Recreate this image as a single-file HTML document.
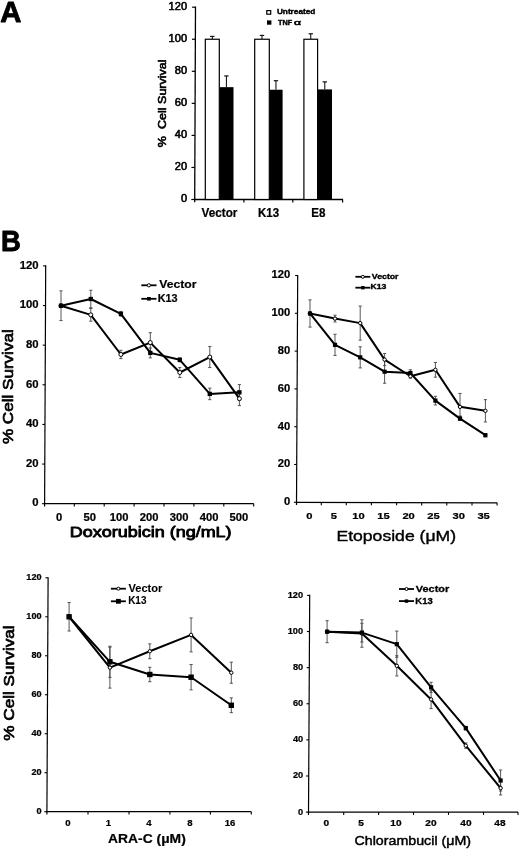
<!DOCTYPE html>
<html><head><meta charset="utf-8"><title>Figure</title>
<style>
html,body{margin:0;padding:0;background:#fff;}
body{width:520px;height:850px;overflow:hidden;}
svg{display:block;font-family:"Liberation Sans", sans-serif;}
</style></head>
<body>
<svg width="520" height="850" viewBox="0 0 520 850">
<rect width="520" height="850" fill="#fff"/>
<defs><filter id="bl" x="0" y="0" width="100%" height="100%"><feGaussianBlur stdDeviation="0.45"/></filter></defs>
<g fill="#000" filter="url(#bl)">
<rect width="520" height="850" fill="#fff"/>
<text transform="translate(0.32,22.25) scale(0.9763,1)" font-size="29.96" font-weight="bold" stroke="#000" stroke-width="0.90" stroke-linejoin="round">A</text>
<line x1="195.50" y1="6.60" x2="194.70" y2="202.30" stroke="#000" stroke-width="1.3" />
<line x1="191.30" y1="199.50" x2="194.70" y2="199.50" stroke="#000" stroke-width="1.2" />
<text transform="translate(180.88,202.22) scale(1.0977,1)" font-size="10.11" font-weight="normal" stroke="#000" stroke-width="0.55" stroke-linejoin="round">0</text>
<line x1="191.43" y1="167.45" x2="194.83" y2="167.45" stroke="#000" stroke-width="1.2" />
<text transform="translate(174.73,170.17) scale(1.0977,1)" font-size="10.11" font-weight="normal" stroke="#000" stroke-width="0.55" stroke-linejoin="round">20</text>
<line x1="191.57" y1="135.40" x2="194.97" y2="135.40" stroke="#000" stroke-width="1.2" />
<text transform="translate(174.73,138.12) scale(1.0977,1)" font-size="10.11" font-weight="normal" stroke="#000" stroke-width="0.55" stroke-linejoin="round">40</text>
<line x1="191.70" y1="103.35" x2="195.10" y2="103.35" stroke="#000" stroke-width="1.2" />
<text transform="translate(174.73,106.07) scale(1.0977,1)" font-size="10.11" font-weight="normal" stroke="#000" stroke-width="0.55" stroke-linejoin="round">60</text>
<line x1="191.83" y1="71.30" x2="195.23" y2="71.30" stroke="#000" stroke-width="1.2" />
<text transform="translate(174.73,74.03) scale(1.0977,1)" font-size="10.11" font-weight="normal" stroke="#000" stroke-width="0.55" stroke-linejoin="round">80</text>
<line x1="191.97" y1="39.25" x2="195.37" y2="39.25" stroke="#000" stroke-width="1.2" />
<text transform="translate(168.54,41.98) scale(1.0977,1)" font-size="10.11" font-weight="normal" stroke="#000" stroke-width="0.55" stroke-linejoin="round">100</text>
<line x1="192.10" y1="7.20" x2="195.50" y2="7.20" stroke="#000" stroke-width="1.2" />
<text transform="translate(168.54,9.92) scale(1.0977,1)" font-size="10.11" font-weight="normal" stroke="#000" stroke-width="0.55" stroke-linejoin="round">120</text>
<line x1="194.10" y1="199.50" x2="343.00" y2="199.50" stroke="#000" stroke-width="1.3" />
<line x1="243.90" y1="199.50" x2="243.90" y2="202.40" stroke="#000" stroke-width="1.2" />
<line x1="292.80" y1="199.50" x2="292.80" y2="202.40" stroke="#000" stroke-width="1.2" />
<line x1="342.60" y1="199.50" x2="342.60" y2="202.40" stroke="#000" stroke-width="1.2" />
<line x1="212.30" y1="39.25" x2="212.30" y2="36.37" stroke="#000" stroke-width="1.0" />
<line x1="210.10" y1="36.37" x2="214.50" y2="36.37" stroke="#000" stroke-width="1.1" />
<rect x="205.30" y="39.25" width="14.00" height="160.25" fill="#fff" stroke="#000" stroke-width="1.2"/>
<line x1="226.40" y1="87.16" x2="226.40" y2="75.95" stroke="#000" stroke-width="1.0" />
<line x1="224.20" y1="75.95" x2="228.60" y2="75.95" stroke="#000" stroke-width="1.1" />
<rect x="219.30" y="87.16" width="14.20" height="112.34" fill="#000" stroke="none"/>
<line x1="262.00" y1="39.25" x2="262.00" y2="35.40" stroke="#000" stroke-width="1.0" />
<line x1="259.80" y1="35.40" x2="264.20" y2="35.40" stroke="#000" stroke-width="1.1" />
<rect x="254.70" y="39.25" width="14.60" height="160.25" fill="#fff" stroke="#000" stroke-width="1.2"/>
<line x1="275.95" y1="89.73" x2="275.95" y2="80.75" stroke="#000" stroke-width="1.0" />
<line x1="273.75" y1="80.75" x2="278.15" y2="80.75" stroke="#000" stroke-width="1.1" />
<rect x="269.30" y="89.73" width="13.30" height="109.77" fill="#000" stroke="none"/>
<line x1="310.75" y1="39.25" x2="310.75" y2="33.80" stroke="#000" stroke-width="1.0" />
<line x1="308.55" y1="33.80" x2="312.95" y2="33.80" stroke="#000" stroke-width="1.1" />
<rect x="303.90" y="39.25" width="13.70" height="160.25" fill="#fff" stroke="#000" stroke-width="1.2"/>
<line x1="324.80" y1="89.41" x2="324.80" y2="81.88" stroke="#000" stroke-width="1.0" />
<line x1="322.60" y1="81.88" x2="327.00" y2="81.88" stroke="#000" stroke-width="1.1" />
<rect x="317.60" y="89.41" width="14.40" height="110.09" fill="#000" stroke="none"/>
<text transform="translate(201.62,217.09) scale(0.9504,1)" font-size="12.33" font-weight="bold" stroke="#000" stroke-width="0.22" stroke-linejoin="round">Vector</text>
<text transform="translate(258.03,217.09) scale(0.9499,1)" font-size="12.16" font-weight="bold" stroke="#000" stroke-width="0.22" stroke-linejoin="round">K13</text>
<text transform="translate(311.23,217.09) scale(0.9563,1)" font-size="12.16" font-weight="bold" stroke="#000" stroke-width="0.22" stroke-linejoin="round">E8</text>
<text transform="translate(165.80,147.14) rotate(-90) scale(1.1804,1)" font-size="10.62" font-weight="normal" stroke="#000" stroke-width="0.60" stroke-linejoin="round">%  Cell Survival</text>
<rect x="266.80" y="10.60" width="3.90" height="3.60" fill="#fff" stroke="#000" stroke-width="1.2"/>
<text transform="translate(276.90,13.90) scale(1.0709,1)" font-size="7.71" font-weight="bold" stroke="#000" stroke-width="0.40" stroke-linejoin="round">Untreated</text>
<rect x="267.00" y="20.40" width="4.40" height="4.30" fill="#000" stroke="none"/>
<text transform="translate(277.93,24.60) scale(1.0072,1)" font-size="7.27" font-weight="bold" stroke="#000" stroke-width="0.40" stroke-linejoin="round">TNF</text>
<text transform="translate(293.93,24.65) scale(1.7280,1)" font-size="7.07" font-weight="normal" stroke="#000" stroke-width="0.50" stroke-linejoin="round">α</text>
<text transform="translate(0.90,251.15) scale(0.9458,1)" font-size="28.95" font-weight="bold" stroke="#000" stroke-width="0.90" stroke-linejoin="round">B</text>
<line x1="45.70" y1="265.30" x2="44.60" y2="506.50" stroke="#000" stroke-width="1.2" />
<line x1="42.00" y1="503.70" x2="44.60" y2="503.70" stroke="#000" stroke-width="1.1" />
<text transform="translate(32.34,506.49) scale(1.1037,1)" font-size="10.29" font-weight="bold" stroke="#000" stroke-width="0.22" stroke-linejoin="round">0</text>
<line x1="42.18" y1="464.07" x2="44.78" y2="464.07" stroke="#000" stroke-width="1.1" />
<text transform="translate(26.03,466.86) scale(1.1037,1)" font-size="10.29" font-weight="bold" stroke="#000" stroke-width="0.22" stroke-linejoin="round">20</text>
<line x1="42.37" y1="424.43" x2="44.97" y2="424.43" stroke="#000" stroke-width="1.1" />
<text transform="translate(26.03,427.22) scale(1.1037,1)" font-size="10.29" font-weight="bold" stroke="#000" stroke-width="0.22" stroke-linejoin="round">40</text>
<line x1="42.55" y1="384.80" x2="45.15" y2="384.80" stroke="#000" stroke-width="1.1" />
<text transform="translate(26.03,387.59) scale(1.1037,1)" font-size="10.29" font-weight="bold" stroke="#000" stroke-width="0.22" stroke-linejoin="round">60</text>
<line x1="42.73" y1="345.17" x2="45.33" y2="345.17" stroke="#000" stroke-width="1.1" />
<text transform="translate(26.03,347.96) scale(1.1037,1)" font-size="10.29" font-weight="bold" stroke="#000" stroke-width="0.22" stroke-linejoin="round">80</text>
<line x1="42.92" y1="305.53" x2="45.52" y2="305.53" stroke="#000" stroke-width="1.1" />
<text transform="translate(19.70,308.32) scale(1.1037,1)" font-size="10.29" font-weight="bold" stroke="#000" stroke-width="0.22" stroke-linejoin="round">100</text>
<line x1="43.10" y1="265.90" x2="45.70" y2="265.90" stroke="#000" stroke-width="1.1" />
<text transform="translate(19.70,268.69) scale(1.1037,1)" font-size="10.29" font-weight="bold" stroke="#000" stroke-width="0.22" stroke-linejoin="round">120</text>
<line x1="44.00" y1="503.70" x2="253.80" y2="503.70" stroke="#000" stroke-width="1.2" />
<line x1="74.30" y1="503.70" x2="74.30" y2="506.50" stroke="#000" stroke-width="1.1" />
<line x1="104.20" y1="503.70" x2="104.20" y2="506.50" stroke="#000" stroke-width="1.1" />
<line x1="134.10" y1="503.70" x2="134.10" y2="506.50" stroke="#000" stroke-width="1.1" />
<line x1="164.00" y1="503.70" x2="164.00" y2="506.50" stroke="#000" stroke-width="1.1" />
<line x1="193.90" y1="503.70" x2="193.90" y2="506.50" stroke="#000" stroke-width="1.1" />
<line x1="223.80" y1="503.70" x2="223.80" y2="506.50" stroke="#000" stroke-width="1.1" />
<line x1="253.70" y1="503.70" x2="253.70" y2="506.50" stroke="#000" stroke-width="1.1" />
<text transform="translate(56.08,521.09) scale(1.1064,1)" font-size="10.15" font-weight="bold" stroke="#000" stroke-width="0.22" stroke-linejoin="round">0</text>
<text transform="translate(83.57,521.09) scale(1.1064,1)" font-size="10.15" font-weight="bold" stroke="#000" stroke-width="0.22" stroke-linejoin="round">50</text>
<text transform="translate(109.81,521.09) scale(1.1064,1)" font-size="10.15" font-weight="bold" stroke="#000" stroke-width="0.22" stroke-linejoin="round">100</text>
<text transform="translate(139.86,521.09) scale(1.1064,1)" font-size="10.15" font-weight="bold" stroke="#000" stroke-width="0.22" stroke-linejoin="round">200</text>
<text transform="translate(169.83,521.09) scale(1.1064,1)" font-size="10.15" font-weight="bold" stroke="#000" stroke-width="0.22" stroke-linejoin="round">300</text>
<text transform="translate(199.78,521.09) scale(1.1064,1)" font-size="10.15" font-weight="bold" stroke="#000" stroke-width="0.22" stroke-linejoin="round">400</text>
<text transform="translate(229.59,521.09) scale(1.1064,1)" font-size="10.15" font-weight="bold" stroke="#000" stroke-width="0.22" stroke-linejoin="round">500</text>
<path d="M61.00,290.87V320.59M59.40,290.87H62.60M59.40,320.59H62.60" stroke="#444" stroke-width="0.9" fill="none"/>
<path d="M90.80,308.51V321.19M89.20,308.51H92.40M89.20,321.19H92.40" stroke="#444" stroke-width="0.9" fill="none"/>
<path d="M120.90,350.32V358.64M119.30,350.32H122.50M119.30,358.64H122.50" stroke="#444" stroke-width="0.9" fill="none"/>
<path d="M150.30,332.68V352.50M148.70,332.68H151.90M148.70,352.50H151.90" stroke="#444" stroke-width="0.9" fill="none"/>
<path d="M179.80,367.56V377.47M178.20,367.56H181.40M178.20,377.47H181.40" stroke="#444" stroke-width="0.9" fill="none"/>
<path d="M209.80,346.55V367.56M208.20,346.55H211.40M208.20,367.56H211.40" stroke="#444" stroke-width="0.9" fill="none"/>
<path d="M239.40,391.74V405.61M237.80,391.74H241.00M237.80,405.61H241.00" stroke="#444" stroke-width="0.9" fill="none"/>
<path d="M90.80,290.27V307.71M89.20,290.27H92.40M89.20,307.71H92.40" stroke="#444" stroke-width="0.9" fill="none"/>
<path d="M120.90,311.48V316.23M119.30,311.48H122.50M119.30,316.23H122.50" stroke="#444" stroke-width="0.9" fill="none"/>
<path d="M150.30,347.94V357.85M148.70,347.94H151.90M148.70,357.85H151.90" stroke="#444" stroke-width="0.9" fill="none"/>
<path d="M179.80,357.85V361.81M178.20,357.85H181.40M178.20,361.81H181.40" stroke="#444" stroke-width="0.9" fill="none"/>
<path d="M209.80,388.17V399.66M208.20,388.17H211.40M208.20,399.66H211.40" stroke="#444" stroke-width="0.9" fill="none"/>
<path d="M239.40,384.60V400.06M237.80,384.60H241.00M237.80,400.06H241.00" stroke="#444" stroke-width="0.9" fill="none"/>
<path d="M61.00,305.73 L90.80,314.85 L120.90,354.48 L150.30,342.59 L179.80,372.51 L209.80,357.06 L239.40,398.67" fill="none" stroke="#000" stroke-width="2.0" stroke-linejoin="round"/>
<path d="M61.00,305.73 L90.80,298.99 L120.90,313.86 L150.30,352.90 L179.80,359.83 L209.80,393.92 L239.40,392.33" fill="none" stroke="#000" stroke-width="2.0" stroke-linejoin="round"/>
<circle cx="61.00" cy="305.73" r="2.00" fill="#fff" stroke="#000" stroke-width="1.0"/>
<circle cx="90.80" cy="314.85" r="2.00" fill="#fff" stroke="#000" stroke-width="1.0"/>
<circle cx="120.90" cy="354.48" r="2.00" fill="#fff" stroke="#000" stroke-width="1.0"/>
<circle cx="150.30" cy="342.59" r="2.00" fill="#fff" stroke="#000" stroke-width="1.0"/>
<circle cx="179.80" cy="372.51" r="2.00" fill="#fff" stroke="#000" stroke-width="1.0"/>
<circle cx="209.80" cy="357.06" r="2.00" fill="#fff" stroke="#000" stroke-width="1.0"/>
<circle cx="239.40" cy="398.67" r="2.00" fill="#fff" stroke="#000" stroke-width="1.0"/>
<rect x="58.85" y="303.58" width="4.30" height="4.30" fill="#000"/>
<rect x="88.65" y="296.84" width="4.30" height="4.30" fill="#000"/>
<rect x="118.75" y="311.71" width="4.30" height="4.30" fill="#000"/>
<rect x="148.15" y="350.75" width="4.30" height="4.30" fill="#000"/>
<rect x="177.65" y="357.68" width="4.30" height="4.30" fill="#000"/>
<rect x="207.65" y="391.77" width="4.30" height="4.30" fill="#000"/>
<rect x="237.25" y="390.18" width="4.30" height="4.30" fill="#000"/>
<line x1="141.30" y1="285.30" x2="156.50" y2="285.30" stroke="#000" stroke-width="1.8" />
<circle cx="148.90" cy="285.30" r="1.60" fill="#fff" stroke="#000" stroke-width="1.0"/>
<line x1="141.30" y1="298.80" x2="156.50" y2="298.80" stroke="#000" stroke-width="1.8" />
<rect x="147.10" y="297.00" width="3.60" height="3.60" fill="#000"/>
<text transform="translate(159.21,288.20) scale(1.1175,1)" font-size="10.91" font-weight="bold" stroke="#000" stroke-width="0.20" stroke-linejoin="round">Vector</text>
<text transform="translate(157.67,301.60) scale(1.0527,1)" font-size="10.32" font-weight="bold" stroke="#000" stroke-width="0.20" stroke-linejoin="round">K13</text>
<text transform="translate(69.84,537.18) scale(1.2059,1)" font-size="14.91" font-weight="normal" stroke="#000" stroke-width="0.85" stroke-linejoin="round">Doxorubicin (ng/mL)</text>
<text transform="translate(12.85,444.05) rotate(-90) scale(1.1266,1)" font-size="15.17" font-weight="normal" stroke="#000" stroke-width="0.70" stroke-linejoin="round">% Cell Survival</text>
<line x1="297.70" y1="274.90" x2="296.50" y2="505.10" stroke="#000" stroke-width="1.2" />
<line x1="293.90" y1="502.30" x2="296.50" y2="502.30" stroke="#000" stroke-width="1.1" />
<text transform="translate(283.90,505.19) scale(1.0475,1)" font-size="10.72" font-weight="bold" stroke="#000" stroke-width="0.22" stroke-linejoin="round">0</text>
<line x1="294.10" y1="464.50" x2="296.70" y2="464.50" stroke="#000" stroke-width="1.1" />
<text transform="translate(277.67,467.39) scale(1.0475,1)" font-size="10.72" font-weight="bold" stroke="#000" stroke-width="0.22" stroke-linejoin="round">20</text>
<line x1="294.30" y1="426.70" x2="296.90" y2="426.70" stroke="#000" stroke-width="1.1" />
<text transform="translate(277.67,429.59) scale(1.0475,1)" font-size="10.72" font-weight="bold" stroke="#000" stroke-width="0.22" stroke-linejoin="round">40</text>
<line x1="294.50" y1="388.90" x2="297.10" y2="388.90" stroke="#000" stroke-width="1.1" />
<text transform="translate(277.67,391.79) scale(1.0475,1)" font-size="10.72" font-weight="bold" stroke="#000" stroke-width="0.22" stroke-linejoin="round">60</text>
<line x1="294.70" y1="351.10" x2="297.30" y2="351.10" stroke="#000" stroke-width="1.1" />
<text transform="translate(277.67,353.99) scale(1.0475,1)" font-size="10.72" font-weight="bold" stroke="#000" stroke-width="0.22" stroke-linejoin="round">80</text>
<line x1="294.90" y1="313.30" x2="297.50" y2="313.30" stroke="#000" stroke-width="1.1" />
<text transform="translate(271.41,316.19) scale(1.0475,1)" font-size="10.72" font-weight="bold" stroke="#000" stroke-width="0.22" stroke-linejoin="round">100</text>
<line x1="295.10" y1="275.50" x2="297.70" y2="275.50" stroke="#000" stroke-width="1.1" />
<text transform="translate(271.41,278.39) scale(1.0475,1)" font-size="10.72" font-weight="bold" stroke="#000" stroke-width="0.22" stroke-linejoin="round">120</text>
<line x1="295.90" y1="502.30" x2="497.10" y2="502.80" stroke="#000" stroke-width="1.2" />
<line x1="321.30" y1="502.36" x2="321.30" y2="505.16" stroke="#000" stroke-width="1.1" />
<line x1="346.30" y1="502.42" x2="346.30" y2="505.22" stroke="#000" stroke-width="1.1" />
<line x1="371.40" y1="502.49" x2="371.40" y2="505.29" stroke="#000" stroke-width="1.1" />
<line x1="396.60" y1="502.55" x2="396.60" y2="505.35" stroke="#000" stroke-width="1.1" />
<line x1="421.70" y1="502.61" x2="421.70" y2="505.41" stroke="#000" stroke-width="1.1" />
<line x1="446.80" y1="502.67" x2="446.80" y2="505.47" stroke="#000" stroke-width="1.1" />
<line x1="472.00" y1="502.74" x2="472.00" y2="505.54" stroke="#000" stroke-width="1.1" />
<line x1="497.10" y1="502.80" x2="497.10" y2="505.60" stroke="#000" stroke-width="1.1" />
<text transform="translate(306.19,519.09) scale(1.2051,1)" font-size="9.29" font-weight="bold" stroke="#000" stroke-width="0.22" stroke-linejoin="round">0</text>
<text transform="translate(330.78,519.09) scale(1.2051,1)" font-size="9.29" font-weight="bold" stroke="#000" stroke-width="0.22" stroke-linejoin="round">5</text>
<text transform="translate(352.36,519.09) scale(1.2051,1)" font-size="9.29" font-weight="bold" stroke="#000" stroke-width="0.22" stroke-linejoin="round">10</text>
<text transform="translate(377.29,519.09) scale(1.2051,1)" font-size="9.29" font-weight="bold" stroke="#000" stroke-width="0.22" stroke-linejoin="round">15</text>
<text transform="translate(402.41,519.09) scale(1.2051,1)" font-size="9.29" font-weight="bold" stroke="#000" stroke-width="0.22" stroke-linejoin="round">20</text>
<text transform="translate(427.34,519.09) scale(1.2051,1)" font-size="9.29" font-weight="bold" stroke="#000" stroke-width="0.22" stroke-linejoin="round">25</text>
<text transform="translate(452.48,519.09) scale(1.2051,1)" font-size="9.29" font-weight="bold" stroke="#000" stroke-width="0.22" stroke-linejoin="round">30</text>
<text transform="translate(477.41,519.09) scale(1.2051,1)" font-size="9.29" font-weight="bold" stroke="#000" stroke-width="0.22" stroke-linejoin="round">35</text>
<path d="M310.00,299.88V327.10M308.40,299.88H311.60M308.40,327.10H311.60" stroke="#444" stroke-width="0.9" fill="none"/>
<path d="M335.00,315.19V321.99M333.40,315.19H336.60M333.40,321.99H336.60" stroke="#444" stroke-width="0.9" fill="none"/>
<path d="M360.20,306.12V340.14M358.60,306.12H361.80M358.60,340.14H361.80" stroke="#444" stroke-width="0.9" fill="none"/>
<path d="M384.60,353.56V365.65M383.00,353.56H386.20M383.00,365.65H386.20" stroke="#444" stroke-width="0.9" fill="none"/>
<path d="M410.40,374.35V378.13M408.80,374.35H412.00M408.80,378.13H412.00" stroke="#444" stroke-width="0.9" fill="none"/>
<path d="M435.40,362.44V377.18M433.80,362.44H437.00M433.80,377.18H437.00" stroke="#444" stroke-width="0.9" fill="none"/>
<path d="M460.00,393.44V415.93M458.40,393.44H461.60M458.40,415.93H461.60" stroke="#444" stroke-width="0.9" fill="none"/>
<path d="M485.40,399.67V421.98M483.80,399.67H487.00M483.80,421.98H487.00" stroke="#444" stroke-width="0.9" fill="none"/>
<path d="M335.00,334.28V355.45M333.40,334.28H336.60M333.40,355.45H336.60" stroke="#444" stroke-width="0.9" fill="none"/>
<path d="M360.20,346.75V367.92M358.60,346.75H361.80M358.60,367.92H361.80" stroke="#444" stroke-width="0.9" fill="none"/>
<path d="M384.60,360.17V383.23M383.00,360.17H386.20M383.00,383.23H386.20" stroke="#444" stroke-width="0.9" fill="none"/>
<path d="M410.40,369.81V376.24M408.80,369.81H412.00M408.80,376.24H412.00" stroke="#444" stroke-width="0.9" fill="none"/>
<path d="M435.40,396.27V404.97M433.80,396.27H437.00M433.80,404.97H437.00" stroke="#444" stroke-width="0.9" fill="none"/>
<path d="M460.00,416.68V420.46M458.40,416.68H461.60M458.40,420.46H461.60" stroke="#444" stroke-width="0.9" fill="none"/>
<path d="M485.40,433.69V436.72M483.80,433.69H487.00M483.80,436.72H487.00" stroke="#444" stroke-width="0.9" fill="none"/>
<path d="M310.00,313.49 L335.00,318.59 L360.20,323.13 L384.60,359.61 L410.40,376.24 L435.40,369.81 L460.00,406.86 L485.40,410.82" fill="none" stroke="#000" stroke-width="2.0" stroke-linejoin="round"/>
<path d="M310.00,313.49 L335.00,344.86 L360.20,357.34 L384.60,371.70 L410.40,373.02 L435.40,400.62 L460.00,418.57 L485.40,435.21" fill="none" stroke="#000" stroke-width="2.0" stroke-linejoin="round"/>
<circle cx="310.00" cy="313.49" r="1.70" fill="#fff" stroke="#000" stroke-width="1.0"/>
<circle cx="335.00" cy="318.59" r="1.70" fill="#fff" stroke="#000" stroke-width="1.0"/>
<circle cx="360.20" cy="323.13" r="1.70" fill="#fff" stroke="#000" stroke-width="1.0"/>
<circle cx="384.60" cy="359.61" r="1.70" fill="#fff" stroke="#000" stroke-width="1.0"/>
<circle cx="410.40" cy="376.24" r="1.70" fill="#fff" stroke="#000" stroke-width="1.0"/>
<circle cx="435.40" cy="369.81" r="1.70" fill="#fff" stroke="#000" stroke-width="1.0"/>
<circle cx="460.00" cy="406.86" r="1.70" fill="#fff" stroke="#000" stroke-width="1.0"/>
<circle cx="485.40" cy="410.82" r="1.70" fill="#fff" stroke="#000" stroke-width="1.0"/>
<rect x="307.90" y="311.39" width="4.20" height="4.20" fill="#000"/>
<rect x="332.90" y="342.76" width="4.20" height="4.20" fill="#000"/>
<rect x="358.10" y="355.24" width="4.20" height="4.20" fill="#000"/>
<rect x="382.50" y="369.60" width="4.20" height="4.20" fill="#000"/>
<rect x="408.30" y="370.92" width="4.20" height="4.20" fill="#000"/>
<rect x="433.30" y="398.52" width="4.20" height="4.20" fill="#000"/>
<rect x="457.90" y="416.47" width="4.20" height="4.20" fill="#000"/>
<rect x="483.30" y="433.11" width="4.20" height="4.20" fill="#000"/>
<line x1="355.40" y1="276.80" x2="370.30" y2="276.80" stroke="#000" stroke-width="1.8" />
<circle cx="362.85" cy="276.80" r="1.50" fill="#fff" stroke="#000" stroke-width="1.0"/>
<line x1="355.40" y1="287.70" x2="370.30" y2="287.70" stroke="#000" stroke-width="1.8" />
<rect x="361.15" y="286.00" width="3.40" height="3.40" fill="#000"/>
<text transform="translate(371.81,278.62) scale(1.2400,1)" font-size="7.05" font-weight="bold" stroke="#000" stroke-width="0.35" stroke-linejoin="round">Vector</text>
<text transform="translate(370.39,289.12) scale(1.1936,1)" font-size="7.24" font-weight="bold" stroke="#000" stroke-width="0.35" stroke-linejoin="round">K13</text>
<text transform="translate(336.45,541.00) scale(1.1412,1)" font-size="15.42" font-weight="normal" stroke="#000" stroke-width="0.40" stroke-linejoin="round">Etoposide (μM)</text>
<line x1="48.10" y1="577.20" x2="46.90" y2="814.50" stroke="#000" stroke-width="1.2" />
<line x1="44.30" y1="811.70" x2="46.90" y2="811.70" stroke="#000" stroke-width="1.1" />
<text transform="translate(36.49,814.09) scale(1.0824,1)" font-size="8.43" font-weight="bold" stroke="#000" stroke-width="0.22" stroke-linejoin="round">0</text>
<line x1="44.50" y1="772.72" x2="47.10" y2="772.72" stroke="#000" stroke-width="1.1" />
<text transform="translate(31.43,775.11) scale(1.0824,1)" font-size="8.43" font-weight="bold" stroke="#000" stroke-width="0.22" stroke-linejoin="round">20</text>
<line x1="44.70" y1="733.73" x2="47.30" y2="733.73" stroke="#000" stroke-width="1.1" />
<text transform="translate(31.43,736.12) scale(1.0824,1)" font-size="8.43" font-weight="bold" stroke="#000" stroke-width="0.22" stroke-linejoin="round">40</text>
<line x1="44.90" y1="694.75" x2="47.50" y2="694.75" stroke="#000" stroke-width="1.1" />
<text transform="translate(31.43,697.14) scale(1.0824,1)" font-size="8.43" font-weight="bold" stroke="#000" stroke-width="0.22" stroke-linejoin="round">60</text>
<line x1="45.10" y1="655.77" x2="47.70" y2="655.77" stroke="#000" stroke-width="1.1" />
<text transform="translate(31.43,658.16) scale(1.0824,1)" font-size="8.43" font-weight="bold" stroke="#000" stroke-width="0.22" stroke-linejoin="round">80</text>
<line x1="45.30" y1="616.78" x2="47.90" y2="616.78" stroke="#000" stroke-width="1.1" />
<text transform="translate(26.34,619.17) scale(1.0824,1)" font-size="8.43" font-weight="bold" stroke="#000" stroke-width="0.22" stroke-linejoin="round">100</text>
<line x1="45.50" y1="577.80" x2="48.10" y2="577.80" stroke="#000" stroke-width="1.1" />
<text transform="translate(26.34,580.19) scale(1.0824,1)" font-size="8.43" font-weight="bold" stroke="#000" stroke-width="0.22" stroke-linejoin="round">120</text>
<line x1="46.30" y1="811.70" x2="251.30" y2="811.70" stroke="#000" stroke-width="1.2" />
<line x1="88.00" y1="811.70" x2="88.00" y2="814.50" stroke="#000" stroke-width="1.1" />
<line x1="129.00" y1="811.70" x2="129.00" y2="814.50" stroke="#000" stroke-width="1.1" />
<line x1="169.90" y1="811.70" x2="169.90" y2="814.50" stroke="#000" stroke-width="1.1" />
<line x1="210.40" y1="811.70" x2="210.40" y2="814.50" stroke="#000" stroke-width="1.1" />
<line x1="251.30" y1="811.70" x2="251.30" y2="814.50" stroke="#000" stroke-width="1.1" />
<text transform="translate(65.15,825.79) scale(1.0968,1)" font-size="8.72" font-weight="bold" stroke="#000" stroke-width="0.22" stroke-linejoin="round">0</text>
<text transform="translate(105.68,825.79) scale(1.0968,1)" font-size="8.72" font-weight="bold" stroke="#000" stroke-width="0.22" stroke-linejoin="round">1</text>
<text transform="translate(146.20,825.79) scale(1.0968,1)" font-size="8.72" font-weight="bold" stroke="#000" stroke-width="0.22" stroke-linejoin="round">4</text>
<text transform="translate(187.34,825.79) scale(1.0968,1)" font-size="8.72" font-weight="bold" stroke="#000" stroke-width="0.22" stroke-linejoin="round">8</text>
<text transform="translate(224.76,825.79) scale(1.0968,1)" font-size="8.72" font-weight="bold" stroke="#000" stroke-width="0.22" stroke-linejoin="round">16</text>
<path d="M69.10,602.55V631.01M67.50,602.55H70.70M67.50,631.01H70.70" stroke="#444" stroke-width="0.9" fill="none"/>
<path d="M109.90,647.19V688.12M108.30,647.19H111.50M108.30,688.12H111.50" stroke="#444" stroke-width="0.9" fill="none"/>
<path d="M149.80,643.88V658.69M148.20,643.88H151.40M148.20,658.69H151.40" stroke="#444" stroke-width="0.9" fill="none"/>
<path d="M191.10,617.95V651.87M189.50,617.95H192.70M189.50,651.87H192.70" stroke="#444" stroke-width="0.9" fill="none"/>
<path d="M231.30,662.20V683.25M229.70,662.20H232.90M229.70,683.25H232.90" stroke="#444" stroke-width="0.9" fill="none"/>
<path d="M109.90,646.22V677.40M108.30,646.22H111.50M108.30,677.40H111.50" stroke="#444" stroke-width="0.9" fill="none"/>
<path d="M149.80,667.27V681.69M148.20,667.27H151.40M148.20,681.69H151.40" stroke="#444" stroke-width="0.9" fill="none"/>
<path d="M191.10,664.54V689.88M189.50,664.54H192.70M189.50,689.88H192.70" stroke="#444" stroke-width="0.9" fill="none"/>
<path d="M231.30,697.87V712.68M229.70,697.87H232.90M229.70,712.68H232.90" stroke="#444" stroke-width="0.9" fill="none"/>
<path d="M69.10,616.78 L109.90,667.66 L149.80,651.28 L191.10,634.91 L231.30,672.72" fill="none" stroke="#000" stroke-width="2.0" stroke-linejoin="round"/>
<path d="M69.10,616.78 L109.90,661.81 L149.80,674.48 L191.10,677.21 L231.30,705.28" fill="none" stroke="#000" stroke-width="2.0" stroke-linejoin="round"/>
<circle cx="69.10" cy="616.78" r="1.70" fill="#fff" stroke="#000" stroke-width="1.0"/>
<circle cx="109.90" cy="667.66" r="1.70" fill="#fff" stroke="#000" stroke-width="1.0"/>
<circle cx="149.80" cy="651.28" r="1.70" fill="#fff" stroke="#000" stroke-width="1.0"/>
<circle cx="191.10" cy="634.91" r="1.70" fill="#fff" stroke="#000" stroke-width="1.0"/>
<circle cx="231.30" cy="672.72" r="1.70" fill="#fff" stroke="#000" stroke-width="1.0"/>
<rect x="66.40" y="614.08" width="5.40" height="5.40" fill="#000"/>
<rect x="107.20" y="659.11" width="5.40" height="5.40" fill="#000"/>
<rect x="147.10" y="671.78" width="5.40" height="5.40" fill="#000"/>
<rect x="188.40" y="674.51" width="5.40" height="5.40" fill="#000"/>
<rect x="228.60" y="702.58" width="5.40" height="5.40" fill="#000"/>
<line x1="110.90" y1="588.70" x2="125.90" y2="588.70" stroke="#000" stroke-width="1.8" />
<circle cx="118.40" cy="588.70" r="1.50" fill="#fff" stroke="#000" stroke-width="1.0"/>
<line x1="110.90" y1="601.30" x2="125.90" y2="601.30" stroke="#000" stroke-width="1.8" />
<rect x="116.00" y="598.90" width="4.80" height="4.80" fill="#000"/>
<text transform="translate(128.46,591.76) scale(1.0696,1)" font-size="10.36" font-weight="bold" stroke="#000" stroke-width="0.08" stroke-linejoin="round">Vector</text>
<text transform="translate(128.17,604.46) scale(0.9751,1)" font-size="10.21" font-weight="bold" stroke="#000" stroke-width="0.08" stroke-linejoin="round">K13</text>
<text transform="translate(108.06,843.49) scale(1.1232,1)" font-size="12.33" font-weight="bold" stroke="#000" stroke-width="0.22" stroke-linejoin="round">ARA-C (μM)</text>
<text transform="translate(13.65,740.75) rotate(-90) scale(1.1114,1)" font-size="15.45" font-weight="normal" stroke="#000" stroke-width="0.70" stroke-linejoin="round">% Cell Survival</text>
<line x1="309.70" y1="594.80" x2="308.50" y2="814.90" stroke="#000" stroke-width="1.2" />
<line x1="305.90" y1="812.10" x2="308.50" y2="812.10" stroke="#000" stroke-width="1.1" />
<text transform="translate(298.03,814.59) scale(1.0792,1)" font-size="8.57" font-weight="bold" stroke="#000" stroke-width="0.22" stroke-linejoin="round">0</text>
<line x1="306.10" y1="775.98" x2="308.70" y2="775.98" stroke="#000" stroke-width="1.1" />
<text transform="translate(292.89,778.47) scale(1.0792,1)" font-size="8.57" font-weight="bold" stroke="#000" stroke-width="0.22" stroke-linejoin="round">20</text>
<line x1="306.30" y1="739.87" x2="308.90" y2="739.87" stroke="#000" stroke-width="1.1" />
<text transform="translate(292.89,742.36) scale(1.0792,1)" font-size="8.57" font-weight="bold" stroke="#000" stroke-width="0.22" stroke-linejoin="round">40</text>
<line x1="306.50" y1="703.75" x2="309.10" y2="703.75" stroke="#000" stroke-width="1.1" />
<text transform="translate(292.89,706.24) scale(1.0792,1)" font-size="8.57" font-weight="bold" stroke="#000" stroke-width="0.22" stroke-linejoin="round">60</text>
<line x1="306.70" y1="667.63" x2="309.30" y2="667.63" stroke="#000" stroke-width="1.1" />
<text transform="translate(292.89,670.12) scale(1.0792,1)" font-size="8.57" font-weight="bold" stroke="#000" stroke-width="0.22" stroke-linejoin="round">80</text>
<line x1="306.90" y1="631.52" x2="309.50" y2="631.52" stroke="#000" stroke-width="1.1" />
<text transform="translate(287.73,634.01) scale(1.0792,1)" font-size="8.57" font-weight="bold" stroke="#000" stroke-width="0.22" stroke-linejoin="round">100</text>
<line x1="307.10" y1="595.40" x2="309.70" y2="595.40" stroke="#000" stroke-width="1.1" />
<text transform="translate(287.73,597.89) scale(1.0792,1)" font-size="8.57" font-weight="bold" stroke="#000" stroke-width="0.22" stroke-linejoin="round">120</text>
<line x1="307.90" y1="812.10" x2="518.00" y2="812.10" stroke="#000" stroke-width="1.2" />
<line x1="343.70" y1="812.10" x2="343.70" y2="814.90" stroke="#000" stroke-width="1.1" />
<line x1="378.60" y1="812.10" x2="378.60" y2="814.90" stroke="#000" stroke-width="1.1" />
<line x1="413.50" y1="812.10" x2="413.50" y2="814.90" stroke="#000" stroke-width="1.1" />
<line x1="448.50" y1="812.10" x2="448.50" y2="814.90" stroke="#000" stroke-width="1.1" />
<line x1="483.50" y1="812.10" x2="483.50" y2="814.90" stroke="#000" stroke-width="1.1" />
<line x1="518.00" y1="812.10" x2="518.00" y2="814.90" stroke="#000" stroke-width="1.1" />
<text transform="translate(323.60,826.09) scale(1.2408,1)" font-size="8.14" font-weight="bold" stroke="#000" stroke-width="0.22" stroke-linejoin="round">0</text>
<text transform="translate(358.18,826.09) scale(1.2408,1)" font-size="8.14" font-weight="bold" stroke="#000" stroke-width="0.22" stroke-linejoin="round">5</text>
<text transform="translate(390.28,826.09) scale(1.2408,1)" font-size="8.14" font-weight="bold" stroke="#000" stroke-width="0.22" stroke-linejoin="round">10</text>
<text transform="translate(425.32,826.09) scale(1.2408,1)" font-size="8.14" font-weight="bold" stroke="#000" stroke-width="0.22" stroke-linejoin="round">20</text>
<text transform="translate(460.32,826.09) scale(1.2408,1)" font-size="8.14" font-weight="bold" stroke="#000" stroke-width="0.22" stroke-linejoin="round">40</text>
<text transform="translate(494.27,826.09) scale(1.2408,1)" font-size="8.14" font-weight="bold" stroke="#000" stroke-width="0.22" stroke-linejoin="round">48</text>
<path d="M327.10,620.68V642.71M325.50,620.68H328.70M325.50,642.71H328.70" stroke="#444" stroke-width="0.9" fill="none"/>
<path d="M361.90,619.78V647.23M360.30,619.78H363.50M360.30,647.23H363.50" stroke="#444" stroke-width="0.9" fill="none"/>
<path d="M396.80,655.71V675.94M395.20,655.71H398.40M395.20,675.94H398.40" stroke="#444" stroke-width="0.9" fill="none"/>
<path d="M431.10,690.21V708.63M429.50,690.21H432.70M429.50,708.63H432.70" stroke="#444" stroke-width="0.9" fill="none"/>
<path d="M465.80,742.94V748.35M464.20,742.94H467.40M464.20,748.35H467.40" stroke="#444" stroke-width="0.9" fill="none"/>
<path d="M500.60,781.22V794.94M499.00,781.22H502.20M499.00,794.94H502.20" stroke="#444" stroke-width="0.9" fill="none"/>
<path d="M361.90,623.21V641.99M360.30,623.21H363.50M360.30,641.99H363.50" stroke="#444" stroke-width="0.9" fill="none"/>
<path d="M396.80,631.07V657.25M395.20,631.07H398.40M395.20,657.25H398.40" stroke="#444" stroke-width="0.9" fill="none"/>
<path d="M431.10,682.26V692.37M429.50,682.26H432.70M429.50,692.37H432.70" stroke="#444" stroke-width="0.9" fill="none"/>
<path d="M465.80,726.32V729.93M464.20,726.32H467.40M464.20,729.93H467.40" stroke="#444" stroke-width="0.9" fill="none"/>
<path d="M500.60,770.02V790.97M499.00,770.02H502.20M499.00,790.97H502.20" stroke="#444" stroke-width="0.9" fill="none"/>
<path d="M327.10,631.70 L361.90,633.50 L396.80,665.83 L431.10,699.42 L465.80,745.65 L500.60,788.08" fill="none" stroke="#000" stroke-width="2.0" stroke-linejoin="round"/>
<path d="M327.10,631.70 L361.90,632.60 L396.80,644.16 L431.10,687.32 L465.80,728.13 L500.60,780.50" fill="none" stroke="#000" stroke-width="2.0" stroke-linejoin="round"/>
<circle cx="327.10" cy="631.70" r="1.70" fill="#fff" stroke="#000" stroke-width="1.0"/>
<circle cx="361.90" cy="633.50" r="1.70" fill="#fff" stroke="#000" stroke-width="1.0"/>
<circle cx="396.80" cy="665.83" r="1.70" fill="#fff" stroke="#000" stroke-width="1.0"/>
<circle cx="431.10" cy="699.42" r="1.70" fill="#fff" stroke="#000" stroke-width="1.0"/>
<circle cx="465.80" cy="745.65" r="1.70" fill="#fff" stroke="#000" stroke-width="1.0"/>
<circle cx="500.60" cy="788.08" r="1.70" fill="#fff" stroke="#000" stroke-width="1.0"/>
<rect x="325.00" y="629.60" width="4.20" height="4.20" fill="#000"/>
<rect x="359.80" y="630.50" width="4.20" height="4.20" fill="#000"/>
<rect x="394.70" y="642.06" width="4.20" height="4.20" fill="#000"/>
<rect x="429.00" y="685.22" width="4.20" height="4.20" fill="#000"/>
<rect x="463.70" y="726.03" width="4.20" height="4.20" fill="#000"/>
<rect x="498.50" y="778.40" width="4.20" height="4.20" fill="#000"/>
<line x1="399.00" y1="589.00" x2="414.00" y2="589.00" stroke="#000" stroke-width="1.8" />
<circle cx="406.50" cy="589.00" r="1.50" fill="#fff" stroke="#000" stroke-width="1.0"/>
<line x1="399.00" y1="601.10" x2="414.00" y2="601.10" stroke="#000" stroke-width="1.8" />
<rect x="404.80" y="599.40" width="3.40" height="3.40" fill="#000"/>
<text transform="translate(415.87,591.95) scale(1.1361,1)" font-size="9.60" font-weight="bold" stroke="#000" stroke-width="0.30" stroke-linejoin="round">Vector</text>
<text transform="translate(415.31,603.85) scale(1.0018,1)" font-size="9.46" font-weight="bold" stroke="#000" stroke-width="0.30" stroke-linejoin="round">K13</text>
<text transform="translate(354.51,844.77) scale(1.0981,1)" font-size="12.97" font-weight="normal" stroke="#000" stroke-width="0.45" stroke-linejoin="round">Chlorambucil (μM)</text>
</g>
</svg>
</body></html>
